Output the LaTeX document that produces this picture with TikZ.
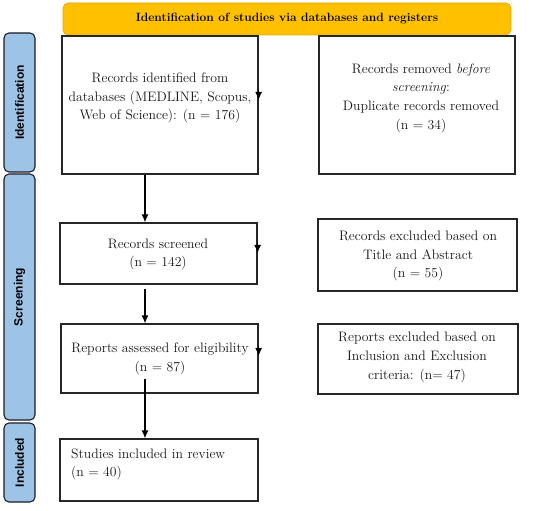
\documentclass[tikz,border=0pt]{standalone}
\usepackage{fontspec}
\newfontfamily\sidefont{Liberation Sans}
\usetikzlibrary{arrows.meta}
\definecolor{banner}{HTML}{FFC000}
\definecolor{bannerline}{HTML}{E3AA00}
\definecolor{sideblue}{HTML}{9DC3E6}
\definecolor{sideline}{HTML}{1C1C24}
\tikzset{
  box/.style={draw=black!85, line width=1.2pt, fill=white, inner sep=0pt},
  txt/.style={align=center, inner sep=0pt, text=black!90, font=\fontsize{13.7}{18.7}\selectfont},
  side/.style={draw=sideline, line width=1.1pt, fill=sideblue, rounded corners=5pt, inner sep=0pt, minimum width=31pt},
  sidetxt/.style={rotate=90, font=\sidefont\bfseries\fontsize{12}{14}\selectfont},
  arr/.style={-{Latex[length=8pt,width=7pt]}, line width=1.2pt, black},
}
\begin{document}
\begin{tikzpicture}[x=1pt,y=-1pt]
\useasboundingbox (0,0) rectangle (550,511);
% banner
\node[draw=bannerline, line width=0.6pt, fill=banner, rounded corners=5pt, minimum width=448pt, minimum height=32pt, inner sep=0pt,
  font=\bfseries\fontsize{12}{14}\selectfont] (ban) at (287,19) {Identification of studies via databases and registers};
% side bars
\node[side, minimum height=139pt] (sid) at (19.5,102.5) {};
\node[sidetxt] (sidt) at (sid.center) {Identification};
\node[side, minimum height=246pt] (sis) at (19.5,297) {};
\node[sidetxt] (sist) at (sis.center) {Screening};
\node[side, minimum height=79pt] (sii) at (19.5,462.5) {};
\node[sidetxt] (siit) at (sii.center) {Included};
% boxes
\node[box, minimum width=196pt, minimum height=138pt] (b1) at (160,105) {};
\node[txt] (t1) at (160,98) {Records identified from\\databases (MEDLINE, Scopus,\\Web of Science): (n = 176)};
\node[box, minimum width=196pt, minimum height=138pt] (b2) at (417,105) {};
\node[txt] (t2) at (421,98) {Records removed \textit{before}\\\textit{screening}:\\Duplicate records removed\\(n = 34)};
\node[box, minimum width=197pt, minimum height=61pt] (b3) at (158.5,253.5) {};
\node[txt] (t3) at (158,254.5) {Records screened\\(n = 142)};
\node[box, minimum width=199pt, minimum height=72pt] (b4) at (417.5,255) {};
\node[txt] (t4) at (418,256) {Records excluded based on\\Title and Abstract\\(n = 55)};
\node[box, minimum width=197pt, minimum height=69pt] (b5) at (159.5,358.5) {};
\node[txt] (t5) at (160,359) {Reports assessed for eligibility\\(n = 87)};
\node[box, minimum width=200pt, minimum height=70pt] (b6) at (418,359) {};
\node[txt] (t6) at (417,357.5) {Reports excluded based on\\Inclusion and Exclusion\\criteria: (n= 47)};
\node[box, minimum width=198pt, minimum height=62pt] (b7) at (159,470) {};
\node[txt, align=left, anchor=west] (t7) at (71,464.5) {Studies included in review\\(n = 40)};
% connectors
\coordinate (c35) at (145,289);
\coordinate (c57) at (145,379);
\draw[arr] (b1.south -| c35) -- (b3.north -| c35);
\draw[arr] (c35) -- (b5.north -| c35);
\draw[arr] (c57) -- (b7.north -| c57);
% stub arrowheads on right edges
\draw[arr] (b1.east |- 0,90) -- (b1.east |- 0,100);
\draw[arr] (b3.east |- 0,243) -- (b3.east |- 0,253);
\draw[arr] (b5.east |- 0,346) -- (b5.east |- 0,356);
\end{tikzpicture}
\end{document}
